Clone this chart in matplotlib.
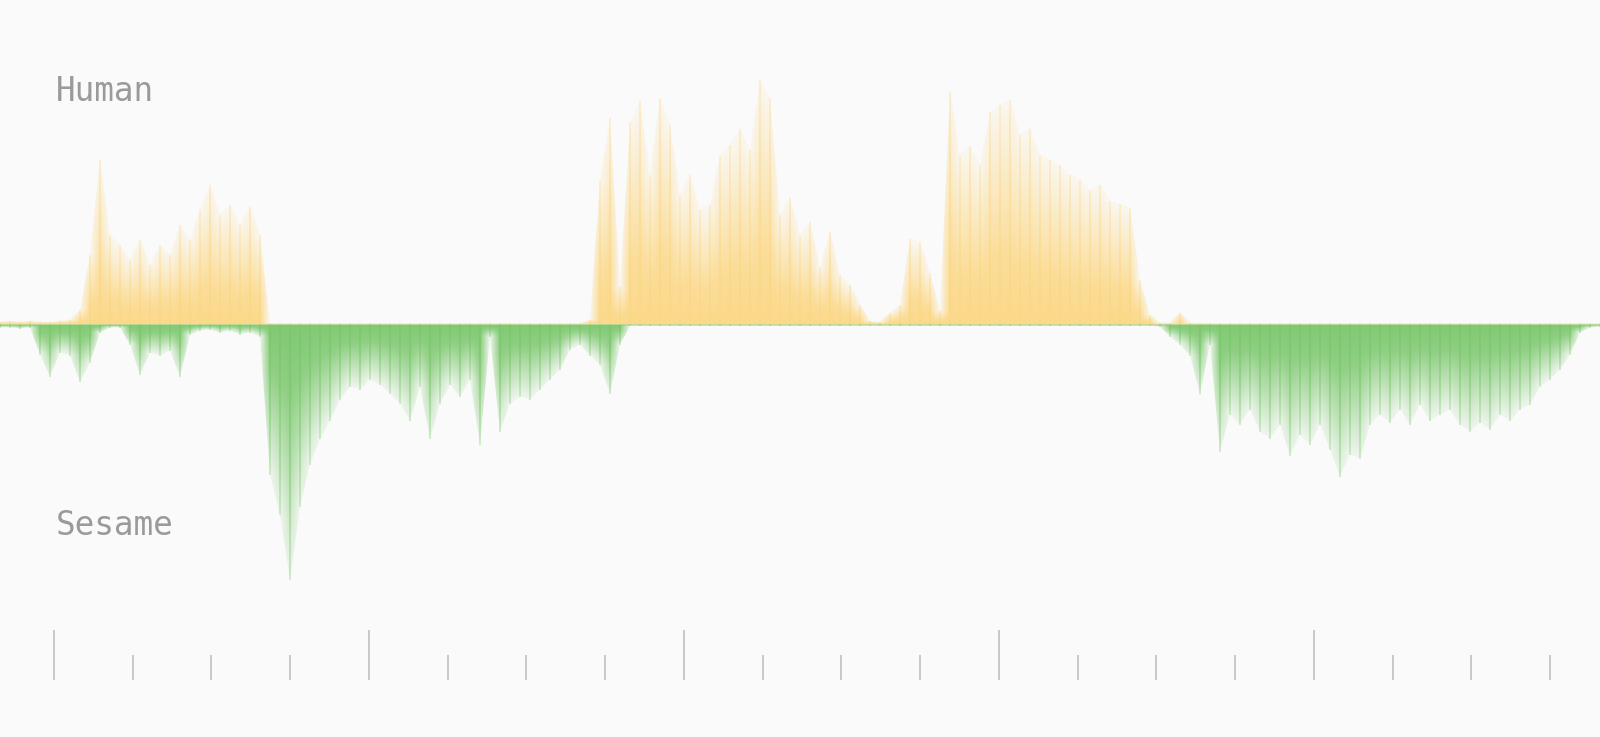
import numpy as np
import matplotlib.pyplot as plt
from matplotlib.colors import to_rgb
from matplotlib.path import Path
from matplotlib.ticker import MultipleLocator

# ==== Style ====
BG = "#fafafa"
HUMAN_COLOR = "#fcd886"
SESAME_COLOR = "#7cc86e"
LABEL_COLOR = "#9a9a9a"
TICK_COLOR = "#c8c8c8"

# ==== Data: waveform peak amplitude, one value every 10 px of the timeline ====
HUMAN_AMP = [
    3, 4, 3, 4, 3, 3, 4, 5, 15, 70,
    165, 90, 80, 65, 85, 60, 80, 70, 100, 85,
    115, 140, 110, 120, 100, 118, 90, 0, 0, 0,
    0, 0, 0, 0, 0, 0, 0, 0, 0, 0,
    0, 0, 0, 0, 0, 0, 0, 0, 0, 0,
    0, 0, 0, 0, 0, 0, 0, 0, 0, 5,
    145, 207, 38, 203, 224, 150, 227, 200, 130, 150,
    115, 120, 169, 180, 196, 175, 245, 227, 110, 127,
    90, 103, 58, 93, 50, 40, 20, 4, 3, 12,
    20, 86, 83, 52, 14, 234, 170, 179, 160, 213,
    220, 225, 190, 196, 170, 165, 160, 150, 145, 135,
    140, 124, 121, 117, 45, 10, 2, 2, 12, 2,
    0, 0, 0, 0, 0, 0, 0, 0, 0, 0,
    0, 0, 0, 0, 0, 0, 0, 0, 0, 0,
    0, 0, 0, 0, 0, 0, 0, 0, 0, 0,
    0, 0, 0, 0, 0, 0, 0, 0, 0, 0,
    0,
]

SESAME_AMP = [
    3, 3, 4, 3, 30, 52, 28, 31, 57, 38,
    8, 3, 3, 20, 50, 28, 31, 26, 52, 10,
    6, 5, 8, 6, 10, 8, 12, 150, 190, 255,
    182, 140, 114, 96, 75, 62, 65, 55, 60, 69,
    79, 96, 62, 114, 79, 60, 72, 55, 120, 12,
    107, 79, 72, 75, 65, 55, 45, 25, 20, 31,
    40, 69, 20, 0, 0, 0, 0, 0, 0, 0,
    0, 0, 0, 0, 0, 0, 0, 0, 0, 0,
    0, 0, 0, 0, 0, 0, 0, 0, 0, 0,
    0, 0, 0, 0, 0, 0, 0, 0, 0, 0,
    0, 0, 0, 0, 0, 0, 0, 0, 0, 0,
    0, 0, 0, 0, 0, 0, 2, 12, 20, 31,
    69, 20, 127, 90, 100, 85, 107, 114, 100, 131,
    110, 120, 100, 125, 152, 130, 134, 100, 90, 98,
    85, 100, 80, 96, 90, 85, 100, 107, 98, 105,
    90, 96, 85, 80, 62, 55, 45, 30, 8, 3,
    2,
]

SERIES_LABELS = ["Human", "Sesame"]

# ==== Timeline geometry ====
SAMPLE_PX = 10          # spacing of the amplitude samples
PX_PER_SEC = 315.0      # one major ruler tick per second
ORIGIN_PX = 54.0        # x of the first ruler tick
WIDTH_PX, HEIGHT_PX = 1600, 737
CENTER_PX = 324.5       # y of the zero line, from the top

t = (np.arange(len(HUMAN_AMP)) * SAMPLE_PX - ORIGIN_PX) / PX_PER_SEC
x_min = -ORIGIN_PX / PX_PER_SEC
x_max = (WIDTH_PX - ORIGIN_PX) / PX_PER_SEC


# ==== Function: fade ====
def fade(r, solid, tip):
    """Opacity against the fraction r of the local peak height."""
    return np.interp(r, [0.0, 0.3, 1.0], [0.97, solid, tip])


# ==== Function: gradient_layer ====
def gradient_layer(ax, clip_path, x, amp, sign, color, solid, tip):
    """Colour that fades towards each local peak, clipped to a path in data coords."""
    top = max(amp) * 1.05
    rows = np.linspace(0, top, 300)[:, None]
    r = rows / np.maximum(amp, 1.0)[None, :]
    rgba = np.zeros((rows.shape[0], len(amp), 4))
    rgba[..., :3] = to_rgb(color)
    rgba[..., 3] = fade(np.clip(r, 0, 1), solid, tip)
    dx = x[1] - x[0]
    im = ax.imshow(rgba, extent=[x[0] - dx / 2, x[-1] + dx / 2, 0, sign * top],
                   origin="lower", aspect="auto", interpolation="bilinear", zorder=2)
    im.set_clip_path(clip_path, transform=ax.transData)


# ==== Function: draw_wave ====
def draw_wave(ax, x, amp, sign, color):
    amp = np.maximum(np.asarray(amp, float), 1.5)
    y = sign * amp

    # envelope body
    poly = ax.fill_between(x, 0, y, facecolor="none", edgecolor="none")
    gradient_layer(ax, poly.get_paths()[0], x, amp, sign, color, 0.85, 0.08)

    # thin spikes at every sample
    bars = ax.bar(x, y, width=1.8 / PX_PER_SEC, color="none", linewidth=0)
    spikes = Path.make_compound_path(
        *[b.get_path().transformed(b.get_patch_transform()) for b in bars])
    gradient_layer(ax, spikes, x, amp, sign, color, 0.6, 0.3)


fig = plt.figure(figsize=(WIDTH_PX / 100, HEIGHT_PX / 100), dpi=100, facecolor=BG)

ax = fig.add_axes([0, 0, 1, 1])
ax.set_facecolor(BG)
ax.axis("off")

draw_wave(ax, t, HUMAN_AMP, 1, HUMAN_COLOR)
draw_wave(ax, t, SESAME_AMP, -1, SESAME_COLOR)

ax.set_xlim(x_min, x_max)
ax.set_ylim(-(HEIGHT_PX - CENTER_PX), CENTER_PX)

# ==== Ruler ====
ruler = fig.add_axes([0, (HEIGHT_PX - 680) / HEIGHT_PX, 1, 0.05])
ruler.set_xlim(x_min, x_max)
ruler.set_frame_on(False)
ruler.patch.set_alpha(0)
ruler.set_yticks([])
ruler.xaxis.set_major_locator(MultipleLocator(1.0))
ruler.xaxis.set_minor_locator(MultipleLocator(0.25))
ruler.tick_params(axis="x", which="major", direction="in", length=36, width=1.4,
                  color=TICK_COLOR, labelbottom=False)
ruler.tick_params(axis="x", which="minor", direction="in", length=18, width=1.4,
                  color=TICK_COLOR, labelbottom=False)

# ==== Labels ====
fig.text(56 / WIDTH_PX, 1 - 101 / HEIGHT_PX, SERIES_LABELS[0], family="DejaVu Sans Mono",
         fontsize=23.5, color=LABEL_COLOR, va="baseline", ha="left")
fig.text(56 / WIDTH_PX, 1 - 535 / HEIGHT_PX, SERIES_LABELS[1], family="DejaVu Sans Mono",
         fontsize=23.5, color=LABEL_COLOR, va="baseline", ha="left")

fig.savefig("out.png", dpi=100, facecolor=BG)
